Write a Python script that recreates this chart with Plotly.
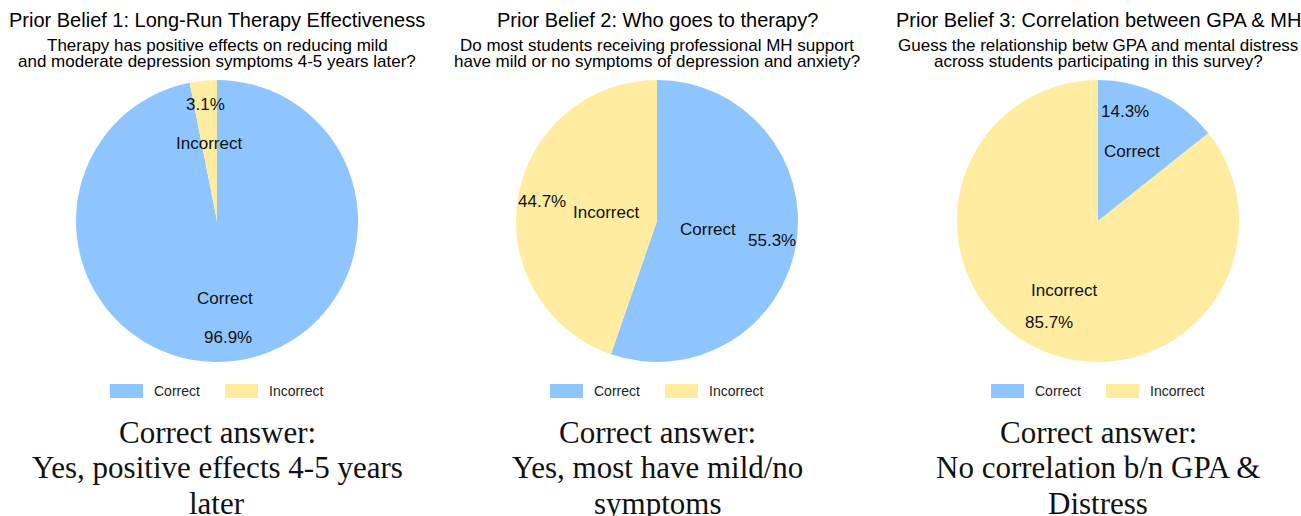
import math
import plotly.graph_objects as go

# ---------------- data ----------------
categories = ["Correct", "Incorrect"]
belief1_values = [96.9, 3.1]
belief2_values = [55.3, 44.7]
belief3_values = [14.3, 85.7]

titles = [
    "Prior Belief 1: Long-Run Therapy Effectiveness",
    "Prior Belief 2: Who goes to therapy?",
    "Prior Belief 3: Correlation between GPA & MH",
]
subtitles = [
    ["Therapy has positive effects on reducing mild",
     "and moderate depression symptoms 4-5 years later?"],
    ["Do most students receiving professional MH support",
     "have mild or no symptoms of depression and anxiety?"],
    ["Guess the relationship betw GPA and mental distress",
     "across students participating in this survey?"],
]
answers = [
    ["Correct answer:", "Yes, positive effects 4-5 years", "later"],
    ["Correct answer:", "Yes, most have mild/no", "symptoms"],
    ["Correct answer:", "No correlation b/n GPA &", "Distress"],
]

# ---------------- style ----------------
W, H = 1301, 516
colors = ["#8ec5ff", "#ffeca1"]
centers = [217, 657, 1098]
cy = 221
R = 141
name_r = [0.55, 0.37, 0.55]
pct_r = [0.83, 0.83, 0.80]
pct_shift = [[0, 0], [0, 0], [-12, 0]]  # degrees, label placement tweak

all_values = [belief1_values, belief2_values, belief3_values]

def px(x):
    return x / W

def py(y):
    return 1 - y / H

fig = go.Figure()
annotations = []
shapes = []

for k, vals in enumerate(all_values):
    cx = centers[k]
    fig.add_trace(go.Pie(
        labels=categories,
        values=vals,
        marker=dict(colors=colors, line=dict(width=0)),
        sort=False,
        direction="clockwise",
        rotation=0,
        textinfo="none",
        hoverinfo="label+percent",
        showlegend=False,
        domain=dict(x=[px(cx - R), px(cx + R)], y=[py(cy + R), py(cy - R)]),
    ))

    # slice labels, positioned from the data angles
    total = sum(vals)
    start = 0.0
    for j, v in enumerate(vals):
        span = v / total * 360.0
        mid = start + span / 2
        start += span
        t = math.radians(mid)
        rn = name_r[k] * R
        annotations.append(dict(
            x=px(cx + math.sin(t) * rn), y=py(cy - math.cos(t) * rn),
            xref="paper", yref="paper", showarrow=False,
            text=categories[j], font=dict(family="Arial", size=17, color="#111"),
            xanchor="center", yanchor="middle"))
        tp = math.radians(mid + pct_shift[k][j])
        rp = pct_r[k] * R
        annotations.append(dict(
            x=px(cx + math.sin(tp) * rp), y=py(cy - math.cos(tp) * rp),
            xref="paper", yref="paper", showarrow=False,
            text=f"{v:.1f}%", font=dict(family="Arial", size=17, color="#111"),
            xanchor="center", yanchor="middle"))

    # titles
    annotations.append(dict(
        x=px(cx), y=py(20), xref="paper", yref="paper", showarrow=False,
        text=titles[k], font=dict(family="Arial", size=20, color="#000"),
        xanchor="center", yanchor="middle"))
    for li, line in enumerate(subtitles[k]):
        annotations.append(dict(
            x=px(cx), y=py(45 + 17 * li), xref="paper", yref="paper", showarrow=False,
            text=line, font=dict(family="Arial", size=17, color="#000"),
            xanchor="center", yanchor="middle"))

    # legend
    for j, cat in enumerate(categories):
        bx = cx - 107 + 115 * j
        shapes.append(dict(
            type="rect", xref="paper", yref="paper",
            x0=px(bx), x1=px(bx + 33), y0=py(398), y1=py(384),
            fillcolor=colors[j], line=dict(width=0)))
        annotations.append(dict(
            x=px(bx + 42), y=py(391), xref="paper", yref="paper", showarrow=False,
            text=cat, font=dict(family="Arial", size=14, color="#222"),
            xanchor="left", yanchor="middle"))

    # correct answer text
    for li, line in enumerate(answers[k]):
        annotations.append(dict(
            x=px(cx), y=py(432 + 35.5 * li), xref="paper", yref="paper", showarrow=False,
            text=line, font=dict(family="Liberation Serif", size=31, color="#111"),
            xanchor="center", yanchor="middle"))

fig.update_layout(
    width=W, height=H,
    margin=dict(l=0, r=0, t=0, b=0),
    paper_bgcolor="white", plot_bgcolor="white",
    annotations=annotations, shapes=shapes,
    showlegend=False,
)

fig.write_html("out.html")
